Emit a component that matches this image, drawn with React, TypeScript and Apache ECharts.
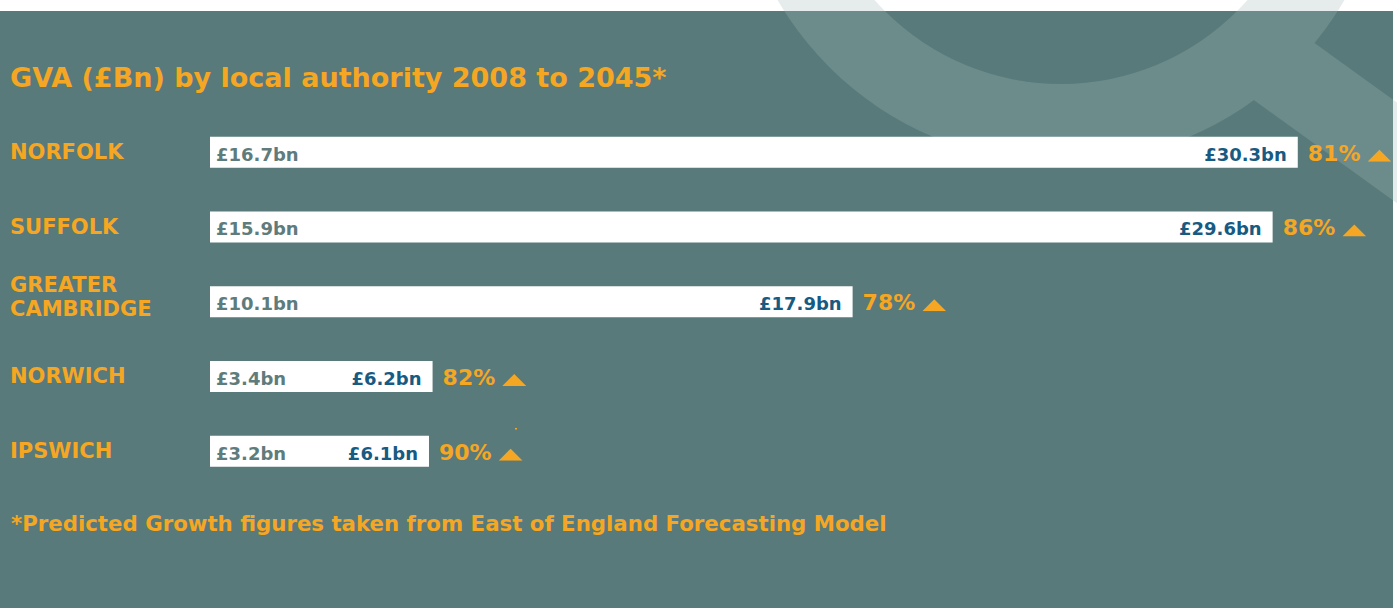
import React, { useEffect, useRef } from 'react';
import * as echarts from 'echarts';

// ---------- data ----------
const categories = ['NORFOLK', 'SUFFOLK', 'GREATER\nCAMBRIDGE', 'NORWICH', 'IPSWICH'];
const gva2008 = [16.7, 15.9, 10.1, 3.4, 3.2];
const gva2045 = [30.3, 29.6, 17.9, 6.2, 6.1];
const growthPct = [81, 86, 78, 82, 90];
const titleText = 'GVA (£Bn) by local authority 2008 to 2045*';
const footnoteText = '*Predicted Growth figures taken from East of England Forecasting Model';

// ---------- styling ----------
const ORANGE = '#f5a623';
const TEAL = '#587a7a';
const DARK_BLUE = '#175a82';
const GREY_LABEL = '#5f7c7c';
const FONT = "'DejaVu Sans', Verdana, sans-serif";

const TRI =
  'data:image/svg+xml;charset=utf-8,' +
  encodeURIComponent(
    '<svg xmlns="http://www.w3.org/2000/svg" width="24" height="17" viewBox="0 0 24 17"><polygon points="0,17 12,5 24,17" fill="#f5a623"/></svg>'
  );

// decorative magnifier (ring + handle) as one path so overlaps are filled once
const mcx = 1061, mcy = -165, mro = 328, mri = 249;
const magnifierPath =
  `M${mcx - mro},${mcy} A${mro},${mro} 0 0 1 ${mcx + mro},${mcy} A${mro},${mro} 0 0 1 ${mcx - mro},${mcy} Z ` +
  `M${mcx - mri},${mcy} A${mri},${mri} 0 0 0 ${mcx + mri},${mcy} A${mri},${mri} 0 0 0 ${mcx - mri},${mcy} Z ` +
  `M1291,26 L1520,191 L1520,292 L1233,85 Z`;

let registered = false;
function ensureShape() {
  if (registered) return;
  echarts.graphic.registerShape('magnifier', echarts.graphic.extendPath(magnifierPath, {}));
  registered = true;
}

const fmtBn = (v: number) => '£' + v.toFixed(1) + 'bn';

export default function App() {
  const ref = useRef<HTMLDivElement>(null);

  useEffect(() => {
    if (!ref.current) return;
    ensureShape();
    const chart = echarts.init(ref.current, undefined, { renderer: 'svg' });

    chart.setOption({
      animation: false,
      backgroundColor: '#ffffff',
      grid: {
        left: 210,
        right: 38.2,
        top: 114.8,
        height: 373.75,
        containLabel: false,
        outerBoundsMode: 'none',
      },
      xAxis: { type: 'value', min: 0, max: 32, show: false },
      yAxis: {
        type: 'category',
        inverse: true,
        data: categories,
        axisLine: { show: false },
        axisTick: { show: false },
        splitLine: { show: false },
        axisLabel: {
          show: true,
          margin: 200,
          align: 'left',
          color: ORANGE,
          fontFamily: FONT,
          fontWeight: 'bold',
          fontSize: 21,
          lineHeight: 24,
          formatter: (v: string) => (v.indexOf('\n') >= 0 ? v + '\n{sp|}' : v),
          rich: {
            sp: { height: 10, lineHeight: 10, fontSize: 8 },
          },
        },
      },
      graphic: [
        { type: 'rect', z: 0, silent: true, shape: { x: 0, y: 11, width: 1393, height: 597 }, style: { fill: TEAL } },
        { type: 'magnifier', z: 1, silent: true, x: 0, y: 0, shape: {}, style: { fill: 'rgba(162,184,184,0.27)' } },
        {
          type: 'text', z: 5, x: 10, y: 77.5,
          style: { text: titleText, fill: ORANGE, fontFamily: FONT, fontWeight: 'bold', fontSize: 27, verticalAlign: 'middle' },
        },
        {
          type: 'text', z: 5, x: 11, y: 523,
          style: { text: footnoteText, fill: ORANGE, fontFamily: FONT, fontWeight: 'bold', fontSize: 21.3, verticalAlign: 'middle' },
        },
        { type: 'rect', z: 5, silent: true, shape: { x: 515, y: 428, width: 2, height: 1.5 }, style: { fill: ORANGE } },
      ],
      series: [
        {
          name: '2045',
          type: 'bar',
          data: gva2045,
          barWidth: 31,
          barGap: '-100%',
          itemStyle: { color: '#ffffff' },
          label: {
            show: true,
            position: 'right',
            distance: 10,
            offset: [0, 1],
            formatter: (p: any) => `{p|${growthPct[p.dataIndex]}%}{s|}{t|}`,
            rich: {
              p: { color: ORANGE, fontFamily: FONT, fontWeight: 'bold', fontSize: 22 },
              s: { width: 7 },
              t: { width: 24, height: 17, backgroundColor: { image: TRI } },
            },
          },
        },
        {
          name: '2045 value',
          type: 'bar',
          data: gva2045,
          barWidth: 31,
          barGap: '-100%',
          itemStyle: { color: 'rgba(0,0,0,0)' },
          label: {
            show: true,
            position: 'insideRight',
            distance: 11,
            offset: [0, 2],
            formatter: (p: any) => fmtBn(gva2045[p.dataIndex]),
            color: DARK_BLUE,
            fontFamily: FONT,
            fontWeight: 'bold',
            fontSize: 18,
          },
        },
        {
          name: '2008 value',
          type: 'bar',
          data: gva2008,
          barWidth: 31,
          barGap: '-100%',
          itemStyle: { color: 'rgba(0,0,0,0)' },
          label: {
            show: true,
            position: 'insideLeft',
            distance: 6,
            offset: [0, 2],
            formatter: (p: any) => fmtBn(gva2008[p.dataIndex]),
            color: GREY_LABEL,
            fontFamily: FONT,
            fontWeight: 'bold',
            fontSize: 18,
          },
        },
      ],
    });

    return () => chart.dispose();
  }, []);

  return (
    <div
      ref={ref}
      style={{ position: 'absolute', left: 0, top: 0, width: 1397, height: 608 }}
    />
  );
}
